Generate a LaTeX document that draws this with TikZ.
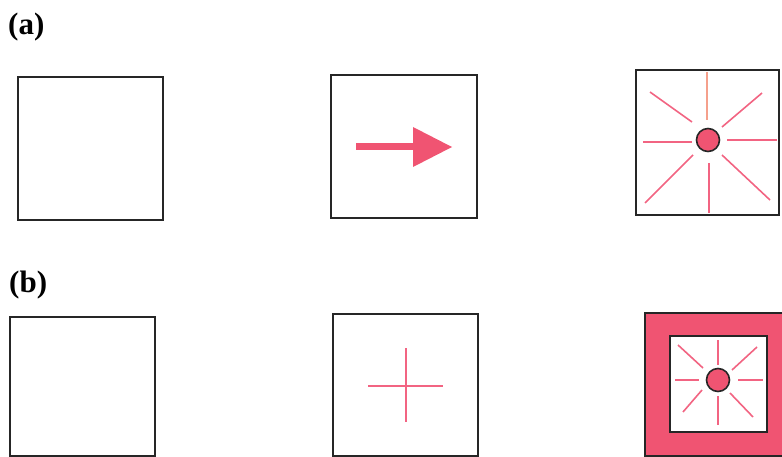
\documentclass[tikz,border=0pt]{standalone}
\usepackage{fontspec}
\setmainfont{Liberation Serif}
\definecolor{pinkc}{RGB}{240,84,114}
\definecolor{raypink}{RGB}{242,100,130}
\definecolor{raylight}{RGB}{245,160,140}
\begin{document}
\begin{tikzpicture}[x=1pt,y=-1pt,
  frame/.style={draw=black!85,line width=1.8pt},
  ray/.style={draw=raypink,line width=1.6pt},
  dot/.style={draw=black!85,line width=1.6pt,fill=pinkc},
  lab/.style={font=\bfseries\fontsize{31}{31}\selectfont,anchor=base west,inner sep=0pt}]
\useasboundingbox (0,0) rectangle (782,457);
\clip (0,0) rectangle (782,457);
% labels
\node[lab] (la) at (8,35) {(a)};
\node[lab] (lb) at (9,292) {(b)};
% row (a)
\draw[frame] (18,77) rectangle (163,220);
\draw[frame] (331,75) rectangle (477,218);
\draw[draw=pinkc,line width=7pt] (356,147) -- (414,147);
\fill[pinkc] (413,127) -- (452,147) -- (413,167) -- cycle;
\draw[frame] (636,70) rectangle (779,215);
\draw[draw=raylight,line width=1.6pt] (707,72) -- (707,120);
\draw[ray] (709,163) -- (709,213);
\draw[ray] (643,142) -- (692,142);
\draw[ray] (727,140) -- (777,140);
\draw[ray] (650,92) -- (692,122);
\draw[ray] (762,93) -- (722,127);
\draw[ray] (693,155) -- (645,203);
\draw[ray] (722,155) -- (770,200);
\draw[dot] (708,140) circle (11.5);
% row (b)
\draw[frame] (10,317) rectangle (155,456);
\draw[frame] (333,314) rectangle (478,456);
\draw[ray] (406,348) -- (406,422);
\draw[ray] (368,386) -- (443,386);
\draw[frame,fill=pinkc] (645,313) rectangle (800,456);
\draw[frame,fill=white] (670,336) rectangle (767,432);
\draw[ray] (718,340) -- (718,365);
\draw[ray] (718,396) -- (718,425);
\draw[ray] (675,380) -- (699,380);
\draw[ray] (738,380) -- (763,380);
\draw[ray] (678,345) -- (703,368);
\draw[ray] (757,347) -- (732,370);
\draw[ray] (702,390) -- (683,412);
\draw[ray] (730,393) -- (753,417);
\draw[dot] (718,380) circle (11.5);
\end{tikzpicture}
\end{document}
